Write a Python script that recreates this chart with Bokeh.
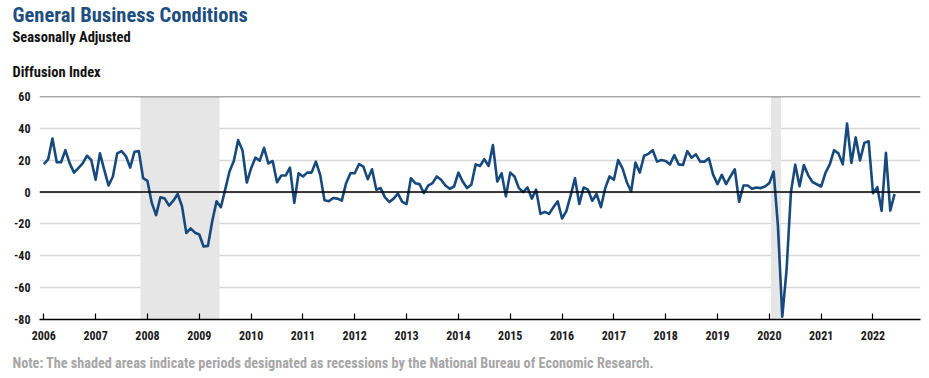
import pandas as pd
from bokeh.plotting import figure
from bokeh.models import ColumnDataSource, Span, Title, FixedTicker
from bokeh.embed import file_html
from bokeh.resources import INLINE

# ---------------- data ----------------
start_month = "2006-01"
v2006 = [17.6, 20.5, 33.6, 18.7, 18.7, 26.3, 18.0, 12.2, 15.0, 18.0, 22.8, 20.0]
v2007 = [7.7, 24.3, 13.9, 4.1, 9.8, 24.3, 25.7, 22.6, 15.4, 25.3, 25.7, 8.7]
v2008 = [7.0, -6.8, -14.5, -3.3, -4.1, -8.5, -5.4, -1.2, -8.9, -25.7, -22.8, -25.5]
v2009 = [-26.6, -34.2, -33.8, -18.3, -5.8, -9.5, 1.5, 12.9, 19.5, 32.6, 26.3, 6.0]
v2010 = [14.9, 21.6, 19.7, 27.8, 18.0, 19.5, 6.2, 10.4, 10.4, 15.4, -6.8, 11.8]
v2011 = [9.8, 12.2, 12.2, 19.1, 10.8, -5.2, -5.8, -3.7, -4.1, -5.4, 5.6, 11.8]
v2012 = [11.8, 17.6, 16.0, 8.1, 14.3, 1.5, 2.5, -3.3, -6.2, -4.1, -1.0, -6.2]
v2013 = [-7.5, 8.7, 5.6, 5.0, -0.6, 4.1, 5.6, 9.8, 7.7, 4.1, 2.1, 3.5]
v2014 = [12.2, 6.6, 2.5, 4.6, 17.4, 16.4, 20.7, 16.4, 29.5, 6.6, 11.8, -2.7]
v2015 = [12.2, 9.8, 2.5, 0.0, 2.9, -4.1, 1.5, -13.7, -12.4, -13.7, -9.5, -5.8]
v2016 = [-16.6, -12.0, -2.1, 8.7, -7.5, 2.9, 1.5, -5.4, -1.2, -9.5, 2.5, 9.8]
v2017 = [7.7, 20.1, 14.9, 6.2, 0.4, 18.5, 12.2, 22.8, 24.0, 26.3, 19.1, 20.1]
v2018 = [19.5, 17.4, 23.2, 17.4, 17.0, 25.7, 21.6, 23.7, 19.1, 19.1, 21.2, 10.8]
v2019 = [5.0, 10.8, 5.0, 9.8, 14.3, -6.2, 4.1, 4.1, 2.1, 2.9, 2.5, 3.5]
v2020 = [5.6, 12.9, -21.5, -78.2, -48.5, -0.2, 17.2, 3.7, 17.0, 10.5, 6.3, 4.9]
v2021 = [3.5, 12.1, 17.4, 26.3, 24.3, 17.4, 43.0, 18.3, 34.3, 19.8, 30.9, 31.9]
v2022 = [-0.7, 3.1, -11.8, 24.6, -11.6, -1.2]

values = (v2006 + v2007 + v2008 + v2009 + v2010 + v2011 + v2012 + v2013 +
          v2014 + v2015 + v2016 + v2017 + v2018 + v2019 + v2020 + v2021 + v2022)

rec_start = ["2007-12", "2020-02"]
rec_end = ["2009-06", "2020-04"]

year_ticks = list(range(2006, 2023))
year_labels = [str(y) for y in year_ticks]
y_ticks = [-80, -60, -40, -20, 0, 20, 40, 60]
y_labels = [str(v) for v in y_ticks]

title_text = "General Business Conditions"
subtitle_text = "Seasonally Adjusted"
unit_text = "Diffusion Index"
note_text = ("Note: The shaded areas indicate periods designated as recessions "
             "by the National Bureau of Economic Research.")

# ---------------- helpers ----------------
def dec_year(period):
    return period.year + (period.month - 1) / 12.0

periods = pd.period_range(start_month, periods=len(values), freq="M")
xs = [dec_year(p) for p in periods]
src = ColumnDataSource(dict(x=xs, y=values))

rec_src = ColumnDataSource(dict(
    left=[dec_year(pd.Period(s, freq="M")) - 0.6 / 12 for s in rec_start],
    right=[dec_year(pd.Period(e, freq="M")) - 0.3 / 12 for e in rec_end],
    bottom=[y_ticks[0]] * len(rec_start),
    top=[y_ticks[-1]] * len(rec_start),
))

FONT = "Roboto Condensed"
BLUE = "#17497c"

p = figure(width=929, height=378,
           x_range=(2005.917, 2022.917), y_range=(y_ticks[0], y_ticks[-1]),
           output_backend="svg", toolbar_location=None,
           min_border_left=39, min_border_right=9,
           min_border_top=94, min_border_bottom=59)
p.outline_line_color = None
p.background_fill_color = "white"
p.border_fill_color = "white"

p.quad(left="left", right="right", bottom="bottom", top="top", source=rec_src,
       fill_color="#e6e6e6", line_color=None)

p.xgrid.grid_line_color = None
p.ygrid.ticker = FixedTicker(ticks=y_ticks[1:-1])
p.ygrid.grid_line_color = "#d9d9d9"
p.ygrid.grid_line_width = 1.5

p.add_layout(Span(location=y_ticks[-1], dimension="width",
                  line_color="#555555", line_width=1.5))
p.add_layout(Span(location=0, dimension="width",
                  line_color="black", line_width=1.6))

p.line("x", "y", source=src, line_color=BLUE, line_width=2.6,
       line_join="round")

# axes
p.xaxis.ticker = FixedTicker(ticks=year_ticks)
p.xaxis.major_label_overrides = {t: l for t, l in zip(year_ticks, year_labels)}
p.xaxis.axis_line_color = "black"
p.xaxis.axis_line_width = 1.5
p.xaxis.major_tick_in = 6
p.xaxis.major_tick_out = 0
p.xaxis.major_tick_line_color = "black"
p.xaxis.major_tick_line_width = 1.2
p.xaxis.minor_tick_line_color = None
p.xaxis.major_label_standoff = 11
p.xaxis.major_label_text_font = FONT
p.xaxis.major_label_text_font_style = "bold"
p.xaxis.major_label_text_font_size = "12px"
p.xaxis.major_label_text_color = "#1a1a1a"
# invisible spacer label to push the note further down
p.xaxis.axis_label = " "
p.xaxis.axis_label_text_font_size = "1px"
p.xaxis.axis_label_standoff = 7

p.yaxis.ticker = FixedTicker(ticks=y_ticks)
p.yaxis.major_label_overrides = {t: l for t, l in zip(y_ticks, y_labels)}
p.yaxis.axis_line_color = None
p.yaxis.major_tick_line_color = None
p.yaxis.minor_tick_line_color = None
p.yaxis.major_tick_out = 0
p.yaxis.major_tick_in = 0
p.yaxis.major_label_standoff = 9
p.yaxis.major_label_text_font = FONT
p.yaxis.major_label_text_font_style = "bold"
p.yaxis.major_label_text_font_size = "12px"
p.yaxis.major_label_text_color = "#1a1a1a"

# texts: titles stacked above the frame (first added = nearest), note below axis
def mk_title(txt, size, color, standoff, valign="bottom"):
    return Title(text=txt, align="left", offset=-27, standoff=standoff,
                 vertical_align=valign, text_font=FONT, text_font_size=size,
                 text_font_style="bold", text_color=color)

p.add_layout(mk_title(unit_text, "14.5px", "#111111", 31), "above")
p.add_layout(mk_title(subtitle_text, "14.5px", "#111111", 1), "above")
p.add_layout(mk_title(title_text, "20.5px", "#1c4e80", 0), "above")
p.add_layout(mk_title(note_text, "14.2px", "#a6a6a6", 2, "top"), "below")

open("out.html", "w").write(file_html(p, INLINE))
